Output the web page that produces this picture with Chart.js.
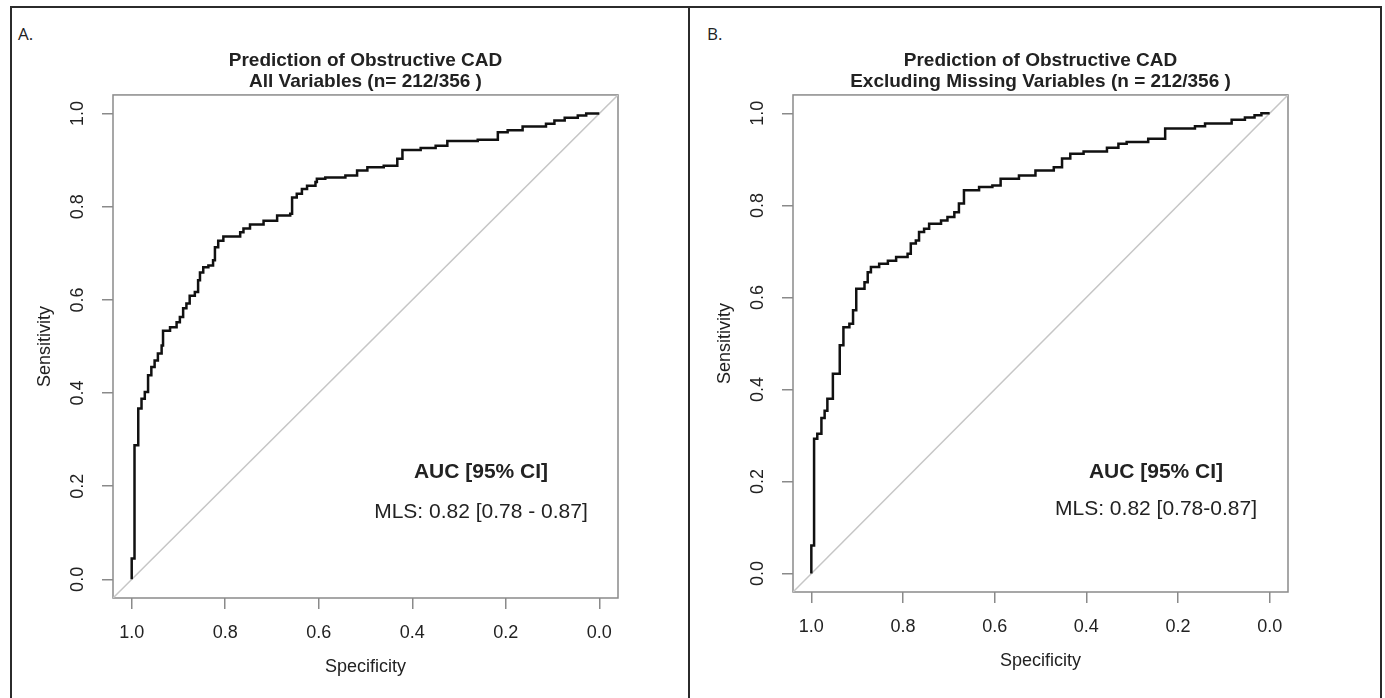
<!DOCTYPE html>
<html>
<head>
<meta charset="utf-8">
<title>Prediction of Obstructive CAD - ROC curves</title>
<script src="https://cdn.jsdelivr.net/npm/chart.js@4.4.1/dist/chart.umd.min.js"></script>
<style>
  html, body { margin: 0; padding: 0; background: #fff; }
  #page { position: relative; width: 1385px; height: 698px; overflow: hidden; }
  .frame { position: absolute; top: 6px; height: 720px; border: 2px solid #2b2b2b; box-sizing: border-box; }
  #frameA { left: 10px; width: 680px; }
  #frameB { left: 688px; width: 694px; border-left: none; }
  .tag { position: absolute; top: 22px; font: 17px "Open Sans", "Liberation Sans", sans-serif; color: #222; }
  #tagA { left: 18px; }
  #tagB { left: 707px; }
  canvas { position: absolute; top: 0; }
  #chartA { left: 0; }
  #chartB { left: 688px; }
</style>
</head>
<body>
<div id="page">
  <div class="frame" id="frameA"></div>
  <div class="frame" id="frameB"></div>
  <div class="tag" id="tagA">A.</div>
  <div class="tag" id="tagB">B.</div>
  <canvas id="chartA" width="688" height="698"></canvas>
  <canvas id="chartB" width="697" height="698"></canvas>
</div>
<script>
// Axis ticks (specificity runs 1 -> 0, R style 4% extension on both ends)
const tickVals = [0, 0.2, 0.4, 0.6, 0.8, 1.0];
const axisMin = -0.04;
const axisMax = 1.04;

// Panel A: all variables
const titleA = ["Prediction of Obstructive CAD", "All Variables (n= 212/356 )"];
const specA = [1.0, 1.0, 0.994, 0.986, 0.979, 0.972, 0.965, 0.958, 0.951, 0.944, 0.936, 0.933, 0.918, 0.904,
  0.897, 0.890, 0.883, 0.876, 0.865, 0.858, 0.854, 0.847, 0.836, 0.826, 0.822, 0.815, 0.804, 0.768, 0.761,
  0.747, 0.718, 0.689, 0.661, 0.657, 0.647, 0.636, 0.625, 0.607, 0.604, 0.586, 0.543, 0.518, 0.496, 0.461,
  0.432, 0.421, 0.382, 0.350, 0.325, 0.260, 0.217, 0.196, 0.164, 0.114, 0.096, 0.074, 0.046, 0.028, 0.0];
const sensA = [0.0, 0.045, 0.288, 0.367, 0.388, 0.402, 0.438, 0.456, 0.470, 0.485, 0.502, 0.534, 0.541, 0.552,
  0.563, 0.582, 0.592, 0.609, 0.617, 0.642, 0.659, 0.670, 0.674, 0.685, 0.713, 0.727, 0.736, 0.745, 0.753,
  0.762, 0.770, 0.781, 0.785, 0.820, 0.828, 0.838, 0.845, 0.853, 0.860, 0.863, 0.867, 0.878, 0.885, 0.888,
  0.903, 0.922, 0.926, 0.931, 0.941, 0.944, 0.960, 0.964, 0.972, 0.978, 0.985, 0.991, 0.996, 1.0, 1.0];
const aucA = "MLS: 0.82 [0.78 - 0.87]";

// Panel B: excluding missing variables
const titleB = ["Prediction of Obstructive CAD", "Excluding Missing Variables (n = 212/356 )"];
const specB = [1.0, 1.0, 0.994, 0.987, 0.978, 0.971, 0.965, 0.953, 0.938, 0.930, 0.917, 0.909, 0.902, 0.884,
  0.877, 0.870, 0.852, 0.833, 0.815, 0.790, 0.783, 0.772, 0.765, 0.754, 0.743, 0.717, 0.703, 0.688, 0.678,
  0.667, 0.634, 0.605, 0.587, 0.547, 0.511, 0.471, 0.453, 0.435, 0.406, 0.355, 0.330, 0.312, 0.265, 0.228,
  0.163, 0.141, 0.083, 0.054, 0.033, 0.018, 0.0];
const sensB = [0.0, 0.061, 0.293, 0.304, 0.338, 0.354, 0.380, 0.434, 0.496, 0.535, 0.543, 0.572, 0.619, 0.633,
  0.655, 0.666, 0.673, 0.680, 0.688, 0.695, 0.717, 0.724, 0.742, 0.749, 0.760, 0.767, 0.775, 0.785, 0.804,
  0.833, 0.840, 0.843, 0.858, 0.865, 0.876, 0.883, 0.902, 0.912, 0.917, 0.925, 0.934, 0.938, 0.945, 0.967,
  0.972, 0.978, 0.986, 0.991, 0.996, 1.0, 1.0];
const aucB = "MLS: 0.82 [0.78-0.87]";

const aucHeader = "AUC [95% CI]";
// chance diagonal, corner to corner of the plot box
const diagSpec = [axisMax, axisMin];
const diagSens = [axisMin, axisMax];

const FONT = '"Liberation Sans", Arial, sans-serif';
const TEXT = '#222';
const AXIS = '#8a8a8a';

// box round the plotting region (R's bty = "o")
const plotBox = {
  id: 'plotBox',
  beforeDatasetsDraw(chart, args, opts) {
    const { ctx, chartArea: a } = chart;
    ctx.save();
    ctx.strokeStyle = opts.color;
    ctx.lineWidth = opts.width;
    ctx.strokeRect(a.left, a.top, a.right - a.left, a.bottom - a.top);
    ctx.restore();
  }
};

// AUC text block, placed in data coordinates
const aucNote = {
  id: 'aucNote',
  afterDatasetsDraw(chart, args, opts) {
    const { ctx, scales: { x, y } } = chart;
    ctx.save();
    ctx.textAlign = 'center';
    ctx.textBaseline = 'middle';
    ctx.fillStyle = TEXT;
    opts.rows.forEach((r) => {
      ctx.font = (r.bold ? 'bold ' : '') + opts.size + 'px ' + FONT;
      ctx.fillText(r.text, x.getPixelForValue(opts.at), y.getPixelForValue(r.y));
    });
    ctx.restore();
  }
};

function rocChart(id, p) {
  const roc = p.spec.map((s, i) => ({ x: s, y: p.sens[i] }));
  const diag = diagSpec.map((s, i) => ({ x: s, y: diagSens[i] }));
  const tickFont = { family: FONT, size: 18 };
  const setTicks = (scale) => { scale.ticks = tickVals.map((v) => ({ value: v })); };

  return new Chart(document.getElementById(id), {
    type: 'line',
    data: {
      datasets: [
        { data: roc, borderColor: '#111', borderWidth: 2.5, pointRadius: 0, stepped: 'before', order: 0 },
        { data: diag, borderColor: '#c6c6c6', borderWidth: 1.5, pointRadius: 0, order: 1 }
      ]
    },
    options: {
      responsive: false,
      animation: false,
      events: [],
      layout: { padding: { left: 0, right: p.padRight, top: 0, bottom: 0 } },
      plugins: {
        legend: { display: false },
        tooltip: { enabled: false },
        title: {
          display: true,
          text: p.title,
          fullSize: false,
          color: TEXT,
          font: { family: FONT, size: 19, weight: 'bold', lineHeight: 1.13 },
          padding: { top: 50, bottom: 2 }
        },
        plotBox: { color: AXIS, width: 1.5 },
        aucNote: {
          at: p.aucAt,
          size: 21,
          rows: [
            { text: aucHeader, y: p.aucY[0], bold: true },
            { text: p.auc, y: p.aucY[1], bold: false }
          ]
        }
      },
      scales: {
        x: {
          type: 'linear',
          reverse: true,
          min: axisMin,
          max: axisMax,
          afterBuildTicks: setTicks,
          afterFit: (s) => { s.height = p.xAxisH; },
          border: { display: false },
          grid: { drawOnChartArea: false, tickLength: 11, color: AXIS, lineWidth: 1.5 },
          ticks: { padding: 13, color: TEXT, font: tickFont, callback: (v) => v.toFixed(1) },
          title: {
            display: true, text: 'Specificity', color: TEXT, font: tickFont,
            padding: { top: 0, bottom: p.xTitlePad }
          }
        },
        y: {
          type: 'linear',
          min: axisMin,
          max: axisMax,
          afterBuildTicks: setTicks,
          afterFit: (s) => { s.width = p.yAxisW; },
          border: { display: false },
          grid: { drawOnChartArea: false, tickLength: 11, color: AXIS, lineWidth: 1.5 },
          ticks: {
            padding: 11.5, color: TEXT, font: tickFont, minRotation: 90, maxRotation: 90,
            crossAlign: 'center', callback: (v) => v.toFixed(1)
          },
          title: {
            display: true, text: 'Sensitivity', color: TEXT, font: tickFont,
            padding: { top: p.yTitlePad, bottom: 0 }
          }
        }
      }
    },
    plugins: [plotBox, aucNote]
  });
}

rocChart('chartA', {
  title: titleA, spec: specA, sens: sensA, auc: aucA,
  padRight: 70, yAxisW: 113, xAxisH: 100, xTitlePad: 20, yTitlePad: 34,
  aucAt: 0.253, aucY: [0.23, 0.144]
});

rocChart('chartB', {
  title: titleB, spec: specB, sens: sensB, auc: aucB,
  padRight: 97, yAxisW: 105, xAxisH: 106, xTitlePad: 26, yTitlePad: 26,
  aucAt: 0.248, aucY: [0.22, 0.139]
});
</script>
</body>
</html>
